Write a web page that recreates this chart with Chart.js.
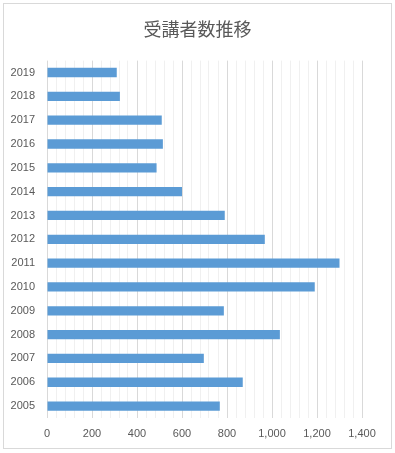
<!DOCTYPE html>
<html>
<head>
<meta charset="utf-8">
<script src="https://cdn.jsdelivr.net/npm/chart.js@4/dist/chart.umd.min.js"></script>
<style>
  html, body { margin: 0; padding: 0; background: #fff; }
  #frame { position: absolute; left: 3px; top: 3px; width: 387px; height: 444px; border: 1px solid #D9D9D9; }
  #wrap { position: absolute; left: 0; top: 0; width: 395px; height: 453px; }
</style>
</head>
<body>
<div id="frame"></div>
<div id="wrap"><canvas id="c" width="395" height="453"></canvas></div>
<script>
const categories = ["2019","2018","2017","2016","2015","2014","2013","2012","2011","2010","2009","2008","2007","2006","2005"];
const values = [310, 324, 510, 515, 487, 600, 790, 968, 1300, 1190, 786, 1035, 697, 870, 768];
const xMin = 0, xMax = 1400, majorStep = 200, minorStep = 40;
const title = "受講者数推移";

const textColor = "#595959";
new Chart(document.getElementById("c"), {
  type: "bar",
  data: {
    labels: categories,
    datasets: [{
      data: values,
      backgroundColor: "#5B9BD5",
      borderWidth: 0,
      categoryPercentage: 1,
      barPercentage: 0.39
    }]
  },
  options: {
    indexAxis: "y",
    responsive: false,
    animation: false,
    devicePixelRatio: 1,
    layout: { padding: 0 },
    plugins: {
      legend: { display: false },
      tooltip: { enabled: false },
      title: {
        display: true,
        text: title,
        color: textColor,
        font: { family: "'Noto Sans CJK JP', 'Noto Sans'", size: 18, weight: "normal" },
        padding: { top: 18, bottom: 21 }
      }
    },
    scales: {
      x: {
        min: xMin, max: xMax,
        afterFit: s => { s.height = 35; },
        border: { display: false },
        grid: {
          drawTicks: false,
          color: ctx => (ctx.tick && ctx.tick.value % majorStep === 0) ? "#D9D9D9" : "#F0F0F0",
          lineWidth: 1
        },
        ticks: {
          stepSize: minorStep,
          autoSkip: false,
          maxRotation: 0,
          padding: 9,
          color: textColor,
          font: { family: "'Liberation Sans', Arial", size: 11 },
          callback: v => (v % majorStep === 0) ? v.toLocaleString("en-US") : ""
        }
      },
      y: {
        afterFit: s => { s.width = 47; },
        border: { display: false },
        grid: { display: false, drawTicks: false },
        ticks: {
          padding: 12,
          color: textColor,
          font: { family: "'Liberation Sans', Arial", size: 11 }
        }
      },
      yRight: {
        type: "category",
        position: "right",
        labels: categories,
        afterFit: s => { s.width = 33; },
        border: { display: false },
        grid: { display: false, drawTicks: false },
        ticks: { display: false }
      }
    }
  }
});
</script>
</body>
</html>
